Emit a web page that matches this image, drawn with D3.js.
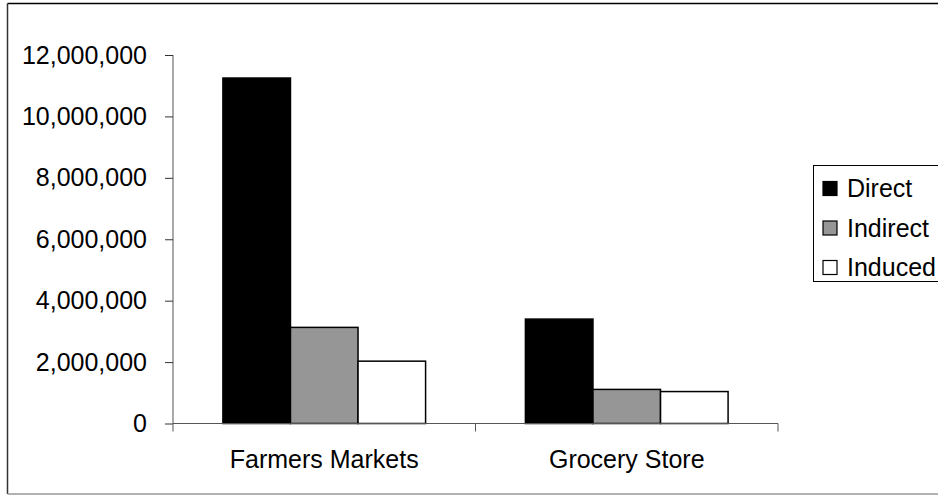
<!DOCTYPE html>
<html><head><meta charset="utf-8">
<script src="https://cdn.jsdelivr.net/npm/d3@7"></script>
<style>
html,body{margin:0;padding:0;background:#fff;overflow:hidden;}
text{font-family:"Liberation Sans",Arial,sans-serif;fill:#000;}
</style></head>
<body>
<svg id="c" width="938" height="495"></svg>
<script>
const categories = ["Farmers Markets", "Grocery Store"];
const seriesNames = ["Direct", "Indirect", "Induced"];
const direct = [11250000, 3400000];
const indirect = [3130000, 1110000];
const induced = [2030000, 1040000];
const yTicks = [0, 2000000, 4000000, 6000000, 8000000, 10000000, 12000000];
const colors = ["#000000", "#969696", "#ffffff"];

const seriesValues = [direct, indirect, induced];
const svg = d3.select("#c");
const fontSize = 25;

// outer border
svg.append("line").attr("x1",7.5).attr("x2",938).attr("y1",3.5).attr("y2",3.5).attr("stroke","#000").attr("stroke-width",1.5);
svg.append("line").attr("x1",7.5).attr("x2",7.5).attr("y1",3.5).attr("y2",494).attr("stroke","#333").attr("stroke-width",1.5);
svg.append("line").attr("x1",7.5).attr("x2",938).attr("y1",494).attr("y2",494).attr("stroke","#999").attr("stroke-width",1.5);

const plotL = 173, plotR = 778, plotT = 55, plotB = 423.5;

const y = d3.scaleLinear().domain([0, 12000000]).range([plotB, plotT]);
const x0 = d3.scaleBand().domain(categories).range([plotL, plotR]).paddingInner(0.33).paddingOuter(0.165);
const x1 = d3.scaleBand().domain(seriesNames).range([0, x0.bandwidth()]);

// bars
const g = svg.append("g");
categories.forEach((c, ci) => {
  seriesNames.forEach((s, si) => {
    const v = seriesValues[si][ci];
    g.append("rect")
      .attr("x", x0(c) + x1(s))
      .attr("y", y(v))
      .attr("width", x1.bandwidth())
      .attr("height", y(0) - y(v))
      .attr("fill", colors[si])
      .attr("stroke", "#000")
      .attr("stroke-width", 1.5);
  });
});

// y axis
const yAxis = d3.axisLeft(y).tickValues(yTicks).tickSize(8).tickPadding(18)
  .tickFormat(d3.format(","));
const ya = svg.append("g").attr("transform", `translate(${plotL},0)`).call(yAxis);
ya.select(".domain").attr("stroke", "#555").attr("d", `M-8,${plotT}H0V${plotB}`).attr("d", `M0,${plotT}V${plotB}`);
ya.selectAll(".tick line").attr("stroke", "#333");
ya.selectAll(".tick text").attr("font-size", fontSize).attr("font-family", '"Liberation Sans",Arial,sans-serif').attr("fill","#000");

// x axis
const xAxisScale = d3.scalePoint().domain([0,1,2]).range([plotL, plotR]);
const xa = svg.append("g").attr("transform", `translate(0,${plotB})`);
xa.append("line").attr("x1", plotL).attr("x2", plotR).attr("y1", 0).attr("y2", 0).attr("stroke", "#555");
xAxisScale.domain().forEach(d => {
  xa.append("line").attr("x1", xAxisScale(d)).attr("x2", xAxisScale(d)).attr("y1", 0).attr("y2", 8).attr("stroke", "#555");
});
categories.forEach(c => {
  svg.append("text").attr("x", x0(c) + x0.bandwidth()/2).attr("y", 467.5)
    .attr("text-anchor", "middle").attr("font-size", fontSize).text(c);
});

// legend
const lg = svg.append("g");
lg.append("rect").attr("x", 813.5).attr("y", 165.5).attr("width", 140).attr("height", 116)
  .attr("fill", "#fff").attr("stroke", "#000").attr("stroke-width", 1);
seriesNames.forEach((s, i) => {
  const cy = 188.5 + i * 39.5;
  lg.append("rect").attr("x", 823).attr("y", cy - 7).attr("width", 14).attr("height", 14)
    .attr("fill", colors[i]).attr("stroke", "#000").attr("stroke-width", 1.2);
  lg.append("text").attr("x", 847).attr("y", cy + 8.5).attr("font-size", fontSize).text(s);
});
</script>
</body></html>
